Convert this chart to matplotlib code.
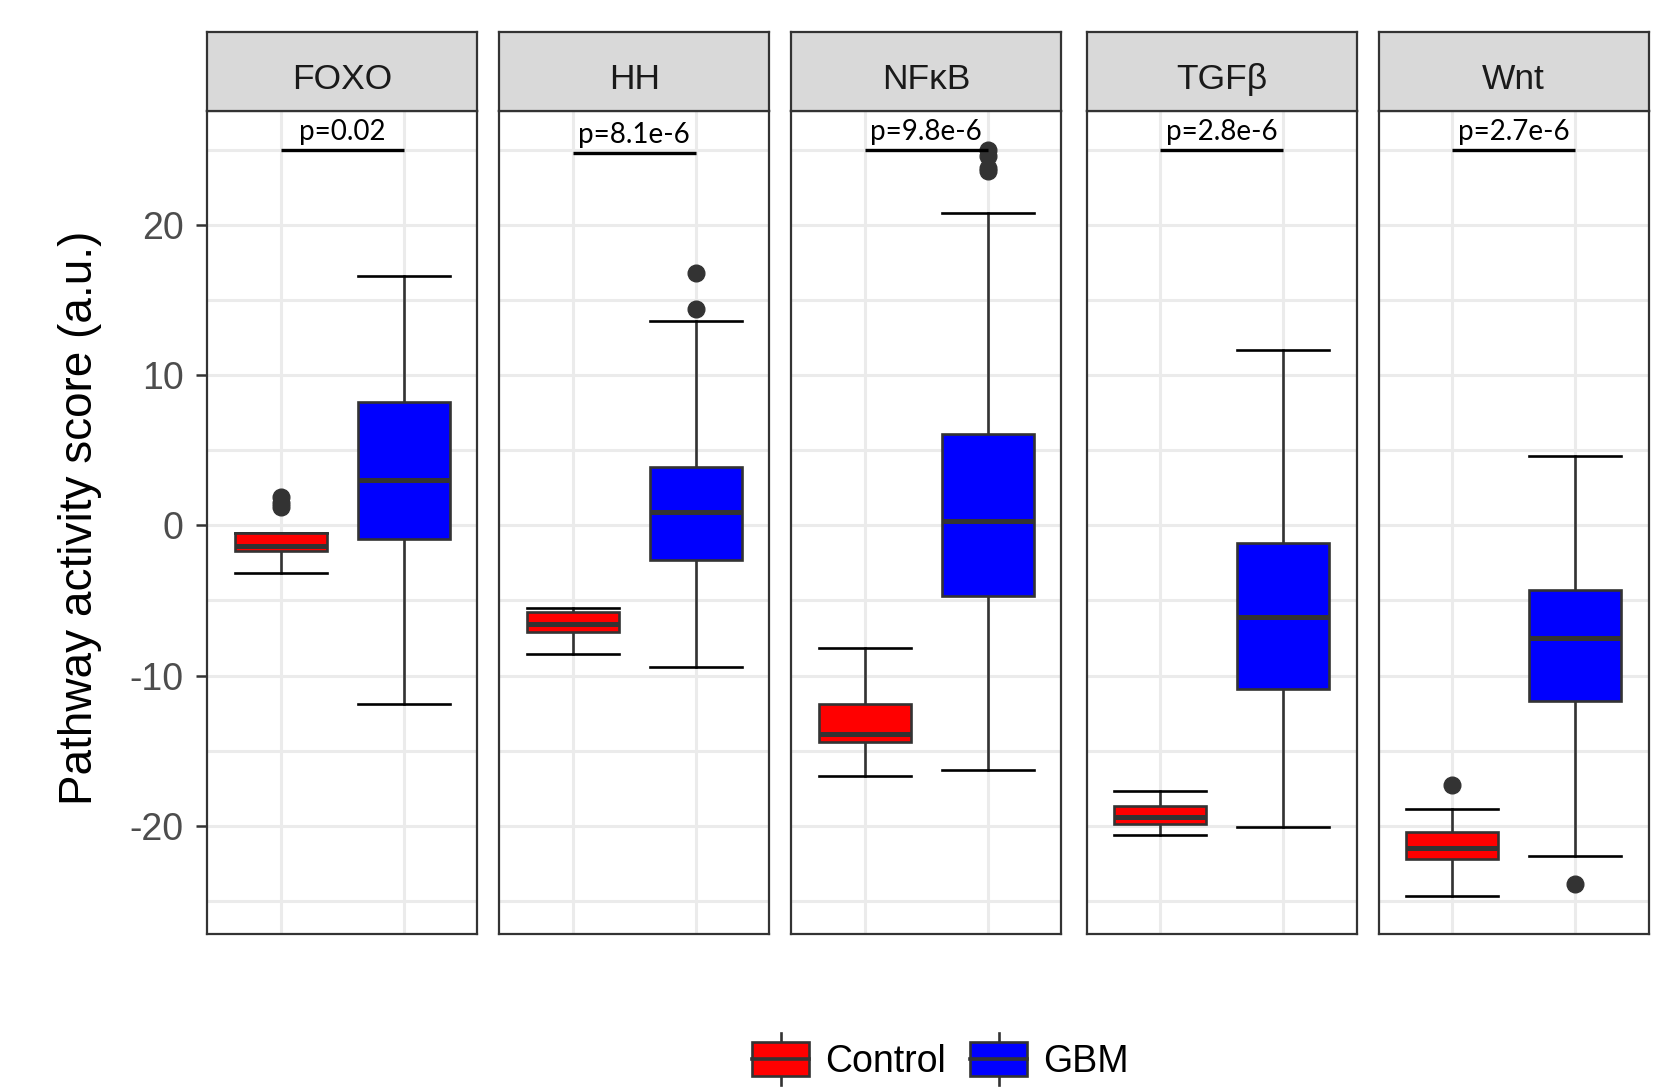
import matplotlib
matplotlib.use("Agg")
import matplotlib.pyplot as plt
from matplotlib.patches import Rectangle
from matplotlib.lines import Line2D
from matplotlib.legend_handler import HandlerBase

# pathway panels and groups
pathways = ["FOXO", "HH", "NF\u03baB", "TGF\u03b2", "Wnt"]
groups = ["Control", "GBM"]
pvalues = ["p=0.02", "p=8.1e-6", "p=9.8e-6", "p=2.8e-6", "p=2.7e-6"]
bar_level = [25.0, 24.8, 25.0, 25.0, 25.0]

# box statistics per pathway: [Control, GBM]
whislo = [[-3.2, -11.9], [-8.6, -9.4], [-16.7, -16.3], [-20.6, -20.1], [-24.7, -22.0]]
q1 = [[-1.7, -0.9], [-7.1, -2.3], [-14.4, -4.7], [-19.9, -10.9], [-22.2, -11.7]]
med = [[-1.4, 3.0], [-6.6, 0.9], [-13.9, 0.3], [-19.4, -6.1], [-21.5, -7.5]]
q3 = [[-0.5, 8.2], [-5.8, 3.9], [-11.9, 6.1], [-18.7, -1.2], [-20.4, -4.3]]
whishi = [[-0.5, 16.6], [-5.5, 13.6], [-8.2, 20.8], [-17.7, 11.7], [-18.9, 4.6]]
fliers = [[[1.9, 1.5, 1.2], []],
          [[], [16.8, 14.4]],
          [[], [25.0, 24.6, 23.8, 23.6]],
          [[], []],
          [[-17.3], [-23.9]]]

fill_colors = ["#FF0000", "#0000FF"]
dark = "#333333"

plt.rcParams["font.family"] = ["Liberation Sans", "DejaVu Sans"]
plt.rcParams["axes.unicode_minus"] = False

fig = plt.figure(figsize=(16.59, 10.88), dpi=100)

lefts = [0.1250, 0.3010, 0.4770, 0.6550, 0.8310]
width = 0.1627
bottom = 0.1414
top = 0.8979
strip_top = 0.9709

for i, name in enumerate(pathways):
    ax = fig.add_axes([lefts[i], bottom, width, top - bottom])
    stats = []
    for g in range(2):
        stats.append({
            "whislo": whislo[i][g], "q1": q1[i][g], "med": med[i][g],
            "q3": q3[i][g], "whishi": whishi[i][g], "fliers": fliers[i][g],
        })
    bp = ax.bxp(stats, positions=[1, 2], widths=0.75, capwidths=0.75,
                patch_artist=True, showfliers=True,
                boxprops=dict(edgecolor=dark, linewidth=1.9),
                medianprops=dict(color=dark, linewidth=3.6, solid_capstyle="butt"),
                whiskerprops=dict(color=dark, linewidth=1.9),
                capprops=dict(color="black", linewidth=1.9),
                flierprops=dict(marker="o", markersize=12, markerfacecolor=dark,
                                markeredgecolor=dark))
    for patch, c in zip(bp["boxes"], fill_colors):
        patch.set_facecolor(c)
    for box in bp["boxes"]:
        box.set_zorder(3)
    for m in bp["medians"]:
        m.set_zorder(4)

    # significance bar with p-value
    ax.plot([1, 2], [bar_level[i], bar_level[i]], color="black", lw=2.4,
            solid_capstyle="butt", zorder=5)
    ax.text(1.5, bar_level[i] + 0.35, pvalues[i], ha="center", va="bottom",
            fontsize=20, family=["Lato", "DejaVu Sans"], zorder=5)

    ax.set_xlim(0.4, 2.6)
    ax.set_ylim(-27.22, 27.58)
    ax.set_yticks([-20, -10, 0, 10, 20])
    ax.set_yticks([-25, -15, -5, 5, 15, 25], minor=True)
    ax.set_xticks([1, 2])
    ax.grid(True, which="major", color="#EBEBEB", lw=2.2, zorder=0)
    ax.grid(True, which="minor", axis="y", color="#EBEBEB", lw=2.2, zorder=0)
    ax.set_axisbelow(True)
    ax.tick_params(axis="x", length=0, labelbottom=False)
    ax.tick_params(axis="y", which="minor", length=0)
    if i == 0:
        ax.tick_params(axis="y", which="major", length=8, width=1.8, color=dark,
                       labelsize=27, labelcolor="#4D4D4D", pad=9)
    else:
        ax.tick_params(axis="y", which="both", length=0, labelleft=False)
    for s in ax.spines.values():
        s.set_color(dark)
        s.set_linewidth(1.6)

    # facet strip
    sax = fig.add_axes([lefts[i], top, width, strip_top - top])
    sax.set_facecolor("#D9D9D9")
    sax.set_xticks([])
    sax.set_yticks([])
    for s in sax.spines.values():
        s.set_color(dark)
        s.set_linewidth(1.6)
    sax.text(0.5, 0.40, name, ha="center", va="center", fontsize=25.5,
             color="#1A1A1A", transform=sax.transAxes)

fig.text(0.048, 0.524, "Pathway activity score (a.u.)", rotation=90,
         ha="center", va="center", fontsize=33)


class BoxKey(HandlerBase):
    def create_artists(self, legend, orig_handle, xdescent, ydescent,
                       width, height, fontsize, trans):
        x0, y0 = -xdescent, -ydescent
        xc = x0 + width / 2
        stub = height * 0.27
        arts = [
            Line2D([xc, xc], [y0 - stub, y0 + height + stub], color=dark, lw=1.9,
                   transform=trans),
            Rectangle((x0, y0), width, height, facecolor=orig_handle.get_facecolor(),
                      edgecolor=dark, lw=1.9, transform=trans),
            Line2D([x0, x0 + width], [y0 + height / 2] * 2, color=dark, lw=2.6,
                   transform=trans),
        ]
        return arts


handles = [Rectangle((0, 0), 1, 1, facecolor=c) for c in fill_colors]
fig.legend(handles, groups, handler_map={Rectangle: BoxKey()}, loc="center",
           bbox_to_anchor=(0.567, 0.025), ncol=2, frameon=False, fontsize=27,
           handlelength=1.52, handleheight=1.0, handletextpad=0.43,
           columnspacing=0.64)

fig.savefig("out.png", dpi=100)
